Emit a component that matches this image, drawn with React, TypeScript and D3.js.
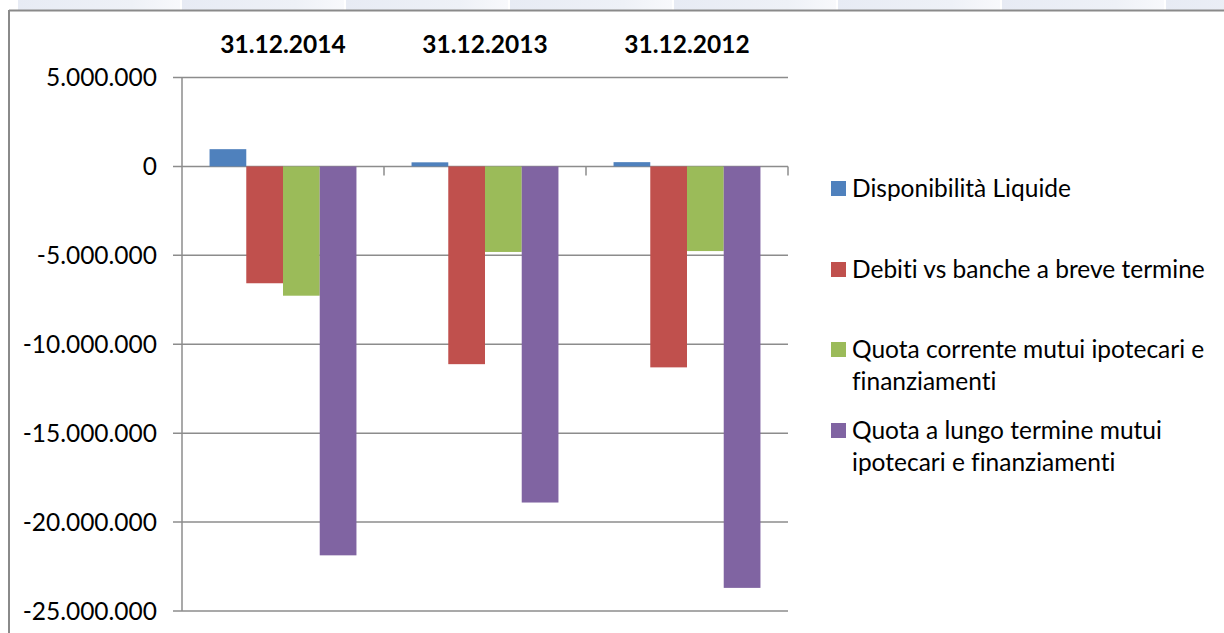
import React from "react";
import * as d3 from "d3";

// categories (dates) and series values
const categories = ["31.12.2014", "31.12.2013", "31.12.2012"];
const seriesNames = [
  "Disponibilità Liquide",
  "Debiti vs banche a breve termine",
  "Quota corrente mutui ipotecari e finanziamenti",
  "Quota a lungo termine mutui ipotecari e finanziamenti",
];
// legend labels wrap like in the original
const legendLines = [
  ["Disponibilità Liquide"],
  ["Debiti vs banche a breve termine"],
  ["Quota corrente mutui ipotecari e", "finanziamenti"],
  ["Quota a lungo termine mutui", "ipotecari e finanziamenti"],
];
const disponibilita = [970000, 230000, 240000];
const debitiBreve = [-6570000, -11120000, -11300000];
const quotaCorrente = [-7270000, -4810000, -4760000];
const quotaLungo = [-21870000, -18900000, -23700000];
const yTicks = [5000000, 0, -5000000, -10000000, -15000000, -20000000, -25000000];
const colors = ["#4f81bd", "#c0504d", "#9bbb59", "#8064a2"];

const W = 1224;
const H = 633;
const font = "Lato, 'Open Sans', sans-serif";

export default function App() {
  const values = [disponibilita, debitiBreve, quotaCorrente, quotaLungo];

  const x = d3.scaleBand<string>().domain(categories).range([182, 788]).padding(0);
  const inner = d3
    .scaleBand<number>()
    .domain(d3.range(seriesNames.length))
    .range([0, x.bandwidth()])
    .paddingInner(0)
    .paddingOuter(0.75);
  const y = d3.scaleLinear().domain([-25000000, 5000000]).range([611, 77.5]);

  const fmt = d3
    .formatLocale({ decimal: ",", thousands: ".", grouping: [3], currency: ["", "€"], minus: "-" })
    .format(",d");

  // faint header bands above the chart frame
  const bands = d3.range(18, W, 164);

  return (
    <svg
      width={W}
      height={H}
      style={{ position: "absolute", left: 0, top: 0, background: "#fff" }}
    >
      <defs>
        <linearGradient id="band" x1="0" x2="1" y1="0" y2="0">
          <stop offset="0" stopColor="#e7ebf4" />
          <stop offset="0.7" stopColor="#eef1f7" />
          <stop offset="1" stopColor="#f8f9fc" />
        </linearGradient>
      </defs>
      {bands.map((b) => (
        <rect key={b} x={b} y={0} width={162} height={10} fill="url(#band)" />
      ))}

      {/* chart frame */}
      <line x1={9} x2={W} y1={10.5} y2={10.5} stroke="#8a8a8a" strokeWidth={2} />
      <line x1={9} x2={9} y1={10} y2={H} stroke="#8a8a8a" strokeWidth={2} />

      {/* gridlines + y ticks */}
      {yTicks.map((t) => (
        <g key={t}>
          <line x1={173} x2={788} y1={y(t)} y2={y(t)} stroke="#8c8c8c" strokeWidth={1.5} />
          <text
            x={157}
            y={y(t)}
            dy="0.36em"
            textAnchor="end"
            fontFamily={font}
            fontSize={24.5}
            fill="#000"
          >
            {fmt(t)}
          </text>
        </g>
      ))}
      <line x1={182} x2={182} y1={y(5000000)} y2={y(-25000000)} stroke="#8c8c8c" strokeWidth={1.5} />

      {/* category ticks on zero line */}
      {categories.map((c) => (
        <line
          key={c}
          x1={(x(c) as number) + x.bandwidth()}
          x2={(x(c) as number) + x.bandwidth()}
          y1={y(0)}
          y2={y(0) + 9}
          stroke="#8c8c8c"
          strokeWidth={1.5}
        />
      ))}

      {/* bars */}
      {values.map((vals, si) =>
        vals.map((v, ci) => {
          const bx = (x(categories[ci]) as number) + (inner(si) as number);
          return (
            <rect
              key={si + "-" + ci}
              x={bx}
              y={Math.min(y(v), y(0))}
              width={inner.bandwidth()}
              height={Math.abs(y(v) - y(0))}
              fill={colors[si]}
            />
          );
        })
      )}

      {/* category labels on top */}
      {categories.map((c) => (
        <text
          key={c}
          x={(x(c) as number) + x.bandwidth() / 2}
          y={53}
          textAnchor="middle"
          fontFamily={font}
          fontWeight="bold"
          fontSize={24.5}
          fill="#000"
        >
          {c}
        </text>
      ))}

      {/* legend */}
      {legendLines.map((lines, i) => {
        const top = [181, 262, 342, 423][i];
        return (
          <g key={i}>
            <rect x={831} y={top} width={15} height={15} fill={colors[i]} />
            {lines.map((l, li) => (
              <text
                key={li}
                x={852}
                y={top + 16 + li * 32}
                fontFamily={font}
                fontSize={24.5}
                fill="#000"
                style={{ fontVariantLigatures: "none" }}
              >
                {l}
              </text>
            ))}
          </g>
        );
      })}
    </svg>
  );
}
